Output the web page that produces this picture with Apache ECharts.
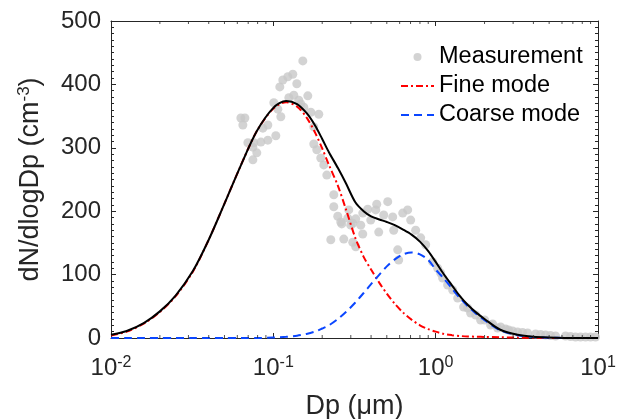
<!DOCTYPE html>
<html><head><meta charset="utf-8">
<script src="https://cdn.jsdelivr.net/npm/echarts@6/dist/echarts.min.js"></script>
<style>html,body{margin:0;padding:0;background:#fff}#c{width:617px;height:419px}</style>
</head><body><div id="c"></div>
<script>
// Fitted curves sampled at these diameters (µm)
const dpGrid = [0.01,0.0125,0.016,0.02,0.025,0.032,0.04,0.05,0.063,0.079,0.1,0.12,0.14,0.16,0.18,0.2,0.22,0.25,0.28,0.32,0.36,0.4,0.45,0.5,0.56,0.63,0.71,0.8,0.9,1.0,1.12,1.26,1.41,1.58,1.78,2.0,2.5,3.2,4.0,5.0,6.3,8.0,10];
const fineMode = [4,10,23,41,66,105,155,212,272,326,362,372,365,348,325,299,273,240,203,158,128,108,87,70,54,40,29,20,14,10,6.5,4.5,3.2,2.4,2.0,1.7,1.1,0.6,0.3,0.1,0,0,0];
const coarseMode = [0,0,0,0,0,0,0,0,0,0,0.7,1.8,3.6,6.4,10,15,20,30,41,56,71,85,100,113,124,132,135,132,123,108,94,78,63,50,38,28,12,4.5,1.5,0.5,0.1,0,0];
const totalFit = [5,11,24,42,67,106,155,212,272,326,363,374,369,355,336,314,293,268,244,214,200,192,187,183,178,171,163,152,137,120,101,83,66,52,40,30,13,5,1.8,0.6,0.1,0,0];

// Measured size distribution
const measDp = [0.0631,0.0668,0.0649,0.0697,0.0748,0.0759,0.0748,0.0791,0.0838,0.0862,0.0925,0.0925,0.1036,0.1007,0.1066,0.1112,0.1096,0.1144,0.1228,0.1318,0.1519,0.1395,0.1337,0.1246,0.1476,0.1541,0.1631,0.1701,0.1905,0.1775,0.1775,0.1852,0.196,0.2046,0.2135,0.2357,0.2357,0.2494,0.2603,0.1435,
0.2259,0.2716,0.2915,0.2874,0.3085,0.3085,0.3218,0.3218,0.3455,0.3554,0.3554,0.3815,0.3981,0.4335,0.5066,0.4274,0.4786,0.5437,0.4459,0.5514,0.6265,0.6724,0.7017,0.7531,0.8086,0.8679,0.5836,0.5919,1.029,0.9583,0.264,0.2999,
1.0735,1.104,1.185,1.273,1.366,1.487,1.573,1.642,1.763,1.892,2.002,2.181,2.243,2.407,2.512,2.697,2.813,2.977,3.195,3.431,3.683,4.125,4.43,4.753,5.10,5.477,6.31,6.77,7.27,7.8,8.38,8.99,9.65];
const measVal = [347,347,336,308,301,308,281,292,309,331,336,312,319,371,361,349,396,407,412,416,437,401,383,379,369,364,382,356,353,333,306,297,284,273,257,226,207,192,183,375,
155,156,202,189,181,151,144,188,178,164,197,203,186,211,215,202,194,191,167,170,197,202,186,170,158,147,139,123,110,120,180,178,
102.5,94.6,83.6,75.7,63,48.9,47.3,39.4,36.3,28.4,28.4,20.5,22,15.8,17.4,14,12.6,11,9.5,8.7,7.9,6.3,5.5,4.7,3.9,3.2,3.2,2.4,1.6,1.6,1.6,1.6,1.6];

// Log-axis minor tick positions (µm)
const xMinorTicks = [0.02,0.03,0.04,0.05,0.06,0.07,0.08,0.09,0.2,0.3,0.4,0.5,0.6,0.7,0.8,0.9,2,3,4,5,6,7,8,9];
const yTickValues = [0,100,200,300,400,500];

const FONT = '"Liberation Sans", Arial, Helvetica, sans-serif';
const AX = '#262626';
const pair = (xs, ys) => xs.map((x, i) => [x, ys[i]]);

const chart = echarts.init(document.getElementById('c'), null, {renderer: 'canvas'});
const axisCommon = {
  axisLine: {show: true, onZero: false, lineStyle: {color: AX, width: 1}},
  axisTick: {show: true, inside: true, length: 5, lineStyle: {color: AX, width: 1}},
  splitLine: {show: false}
};
const xAxisBase = Object.assign({type: 'log', logBase: 10, min: 0.01, max: 10}, axisCommon);
const yAxisBase = Object.assign({type: 'value', min: yTickValues[0], max: yTickValues[yTickValues.length - 1], interval: 100,
  minorTick: {show: true, splitNumber: 10, length: 3, lineStyle: {color: AX, width: 1}}}, axisCommon);

chart.setOption({
  animation: false,
  backgroundColor: '#ffffff',
  grid: {left: 111, right: 19, top: 21, bottom: 81, containLabel: false, outerBoundsMode: 'none'},
  xAxis: [
    Object.assign({}, xAxisBase, {
      position: 'bottom',
      axisLabel: {
        margin: 17,
        formatter: v => '{b|10}{s|' + Math.round(Math.log10(v)) + '}',
        rich: {
          b: {fontSize: 24, fontFamily: FONT, color: AX},
          s: {fontSize: 16, fontFamily: FONT, color: AX, padding: [0, 0, 10, 0]}
        }
      },
      name: 'Dp (μm)', nameLocation: 'middle', nameGap: 55,
      nameTextStyle: {fontSize: 27, fontFamily: FONT, color: AX}
    }),
    Object.assign({}, xAxisBase, {position: 'top', axisLabel: {show: false}})
  ],
  yAxis: [
    Object.assign({}, yAxisBase, {
      position: 'left',
      axisLabel: {margin: 10, fontSize: 24, fontFamily: FONT, color: AX},
      name: '{a|dN/dlogDp (cm}{s|-3}{a|)}', nameLocation: 'middle', nameGap: 65, nameRotate: 90,
      nameTextStyle: {rich: {
        a: {fontSize: 27, fontFamily: FONT, color: AX},
        s: {fontSize: 17, fontFamily: FONT, color: AX, padding: [0, 0, 13, 0]}
      }}
    }),
    Object.assign({}, yAxisBase, {position: 'right', axisLabel: {show: false}})
  ],
  legend: {
    orient: 'vertical', left: 395, top: 40,
    itemWidth: 33, itemHeight: 8, itemGap: 5,
    textStyle: {fontSize: 23.5, fontFamily: FONT, color: '#000'},
    data: [
      {name: 'Measurement', icon: 'circle'},
      {name: 'Fine mode', itemStyle: {opacity: 0}},
      {name: 'Coarse mode', itemStyle: {opacity: 0}}
    ]
  },
  series: [
    {name: 'Measurement', type: 'scatter', data: pair(measDp, measVal), symbol: 'circle', symbolSize: 9,
      itemStyle: {color: '#c8c8c8'}, z: 2, silent: true},
    {name: 'Fine mode', type: 'line', data: pair(dpGrid, fineMode), showSymbol: false, symbol: 'none', smooth: 0.3,
      lineStyle: {color: '#ff0000', width: 2, type: [7, 3, 2, 3]}, itemStyle: {color: '#ff0000'}, z: 3, silent: true},
    {name: 'Coarse mode', type: 'line', data: pair(dpGrid, coarseMode), showSymbol: false, symbol: 'none', smooth: 0.3,
      lineStyle: {color: '#0a46ff', width: 2, type: [8, 5]}, itemStyle: {color: '#0a46ff'}, z: 3, silent: true},
    {name: 'Total', type: 'line', data: pair(dpGrid, totalFit), showSymbol: false, symbol: 'none', smooth: 0.3,
      lineStyle: {color: '#000000', width: 2}, z: 4, silent: true},
    {name: 'xMinorBottom', type: 'scatter', data: xMinorTicks.map(v => [v, yTickValues[0]]), symbol: 'rect',
      symbolSize: [1, 3], symbolOffset: [0, -1.5], itemStyle: {color: AX}, clip: false, silent: true, z: 5},
    {name: 'xMinorTop', type: 'scatter', data: xMinorTicks.map(v => [v, yTickValues[yTickValues.length - 1]]), symbol: 'rect',
      symbolSize: [1, 3], symbolOffset: [0, 1.5], itemStyle: {color: AX}, clip: false, silent: true, z: 5}
  ]
});
</script>
</body></html>
